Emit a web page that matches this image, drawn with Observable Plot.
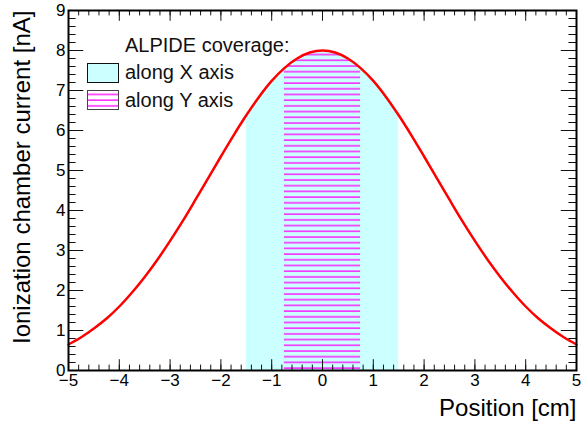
<!DOCTYPE html>
<html><head><meta charset="utf-8">
<script src="https://cdn.jsdelivr.net/npm/d3@7"></script>
<script src="https://cdn.jsdelivr.net/npm/@observablehq/plot@0.6"></script>
<style>body{margin:0;background:#fff} #chart{position:relative;width:581px;height:422px}</style>
</head><body><div id="chart"></div>
<script>
// Data
const positions = [-5,-4.75,-4.5,-4.25,-4,-3.75,-3.5,-3.25,-3,-2.75,-2.5,-2.25,-2,-1.75,-1.5,-1.25,-1,-0.75,-0.5,-0.25,0,
  0.25,0.5,0.75,1,1.25,1.5,1.75,2,2.25,2.5,2.75,3,3.25,3.5,3.75,4,4.25,4.5,4.75,5];
const current = [0.65,0.83,1.05,1.30,1.60,1.95,2.34,2.77,3.24,3.74,4.27,4.81,5.35,5.88,6.38,6.84,7.24,7.56,7.80,7.95,8.00,
  7.95,7.80,7.56,7.24,6.84,6.38,5.88,5.35,4.81,4.27,3.74,3.24,2.77,2.34,1.95,1.60,1.30,1.05,0.83,0.65];
const coverageX = [-1.5, 1.5];
const coverageY = [-0.75, 0.75];
const xTicks = [-5,-4,-3,-2,-1,0,1,2,3,4,5];
const yTicks = [0,1,2,3,4,5,6,7,8,9];
const xTitle = "Position [cm]";
const yTitle = "Ionization chamber current [nA]";
const legendTitle = "ALPIDE coverage:";
const legendLabels = ["along X axis", "along Y axis"];

const data = positions.map((x, i) => ({x, y: current[i]}));
const W = 581, H = 422, mL = 68, mR = 5, mT = 10, mB = 52;
const iw = W - mL - mR, ih = H - mT - mB;
const xMinor = d3.range(-25, 26).map(i => i / 5);
const yMinor = d3.range(0, 46).map(i => i / 5);
const font = "'Liberation Sans', Arial, Helvetica, sans-serif";
const fmt = d => d < 0 ? "\u2212" + Math.abs(d) : String(d);
const tx = ih * 0.03, ty = iw * 0.03;

const plot = Plot.plot({
  width: W, height: H, marginLeft: mL, marginRight: mR, marginTop: mT, marginBottom: mB,
  style: {fontFamily: font, fontSize: "17px", background: "white", color: "black"},
  x: {domain: [-5, 5]},
  y: {domain: [0, 9]},
  marks: [
    Plot.areaY(data, {filter: d => d.x >= coverageX[0] && d.x <= coverageX[1], x: "x", y: "y", fill: "#ccffff", curve: "catmull-rom"}),
    Plot.areaY(data, {filter: d => d.x >= coverageY[0] && d.x <= coverageY[1], x: "x", y: "y", fill: "url(#hatchY)", curve: "catmull-rom"}),
    Plot.line(data, {x: "x", y: "y", stroke: "#ff0000", strokeWidth: 2.5, curve: "catmull-rom"}),
    Plot.tickX(xMinor, {x: d => d, insetTop: ih - tx / 2, stroke: "#111"}),
    Plot.tickX(xTicks, {x: d => d, insetTop: ih - tx, stroke: "#111"}),
    Plot.tickX(xMinor, {x: d => d, insetBottom: ih - tx / 2, stroke: "#111"}),
    Plot.tickX(xTicks, {x: d => d, insetBottom: ih - tx, stroke: "#111"}),
    Plot.tickY(yMinor, {y: d => d, insetRight: iw - ty / 2, stroke: "#111"}),
    Plot.tickY(yTicks, {y: d => d, insetRight: iw - ty, stroke: "#111"}),
    Plot.tickY(yMinor, {y: d => d, insetLeft: iw - ty / 2, stroke: "#111"}),
    Plot.tickY(yTicks, {y: d => d, insetLeft: iw - ty, stroke: "#111"}),
    Plot.frame({stroke: "black", strokeWidth: 2}),
    Plot.axisX(xTicks, {tickSize: 0, tickPadding: 3, fontSize: 17, label: null, tickFormat: fmt}),
    Plot.axisY(yTicks, {tickSize: 0, tickPadding: 3, fontSize: 17, label: null, tickFormat: fmt}),
    Plot.text([xTitle], {text: d => d, frameAnchor: "bottom-right", dy: 45, textAnchor: "end", fontSize: 24}),
    Plot.text([yTitle], {text: d => d, frameAnchor: "top-left", dx: -56, rotate: -90, textAnchor: "end", fontSize: 24})
  ]
});
document.getElementById("chart").appendChild(plot);

const svg = d3.select(plot.tagName.toLowerCase() === "svg" ? plot : plot.querySelector("svg"));
const pat = svg.insert("defs", ":first-child").append("pattern")
  .attr("id", "hatchY").attr("patternUnits", "userSpaceOnUse")
  .attr("x", 0).attr("y", 1.3).attr("width", 10).attr("height", 5.7);
pat.append("line").attr("x1", 0).attr("x2", 10).attr("y1", 2).attr("y2", 2)
  .attr("stroke", "#ff00ff").attr("stroke-width", 1.3);

// Legend
const lg = svg.append("g").attr("font-family", font).attr("font-size", 20)
  .attr("fill", "#111").attr("text-anchor", "start");
lg.append("text").attr("x", 125).attr("y", 52).text(legendTitle);
lg.append("rect").attr("x", 87.5).attr("y", 63.5).attr("width", 31).attr("height", 19)
  .attr("fill", "#ccffff").attr("stroke", "#111").attr("stroke-width", 1);
lg.append("text").attr("x", 125).attr("y", 79).text(legendLabels[0]);
lg.append("rect").attr("x", 87.5).attr("y", 90.5).attr("width", 31).attr("height", 19)
  .attr("fill", "white").attr("stroke", "none");
lg.append("rect").attr("x", 87.5).attr("y", 90.5).attr("width", 31).attr("height", 19)
  .attr("fill", "url(#hatchY)").attr("stroke", "#444").attr("stroke-width", 1);
lg.append("text").attr("x", 125).attr("y", 107).text(legendLabels[1]);
</script></body></html>
